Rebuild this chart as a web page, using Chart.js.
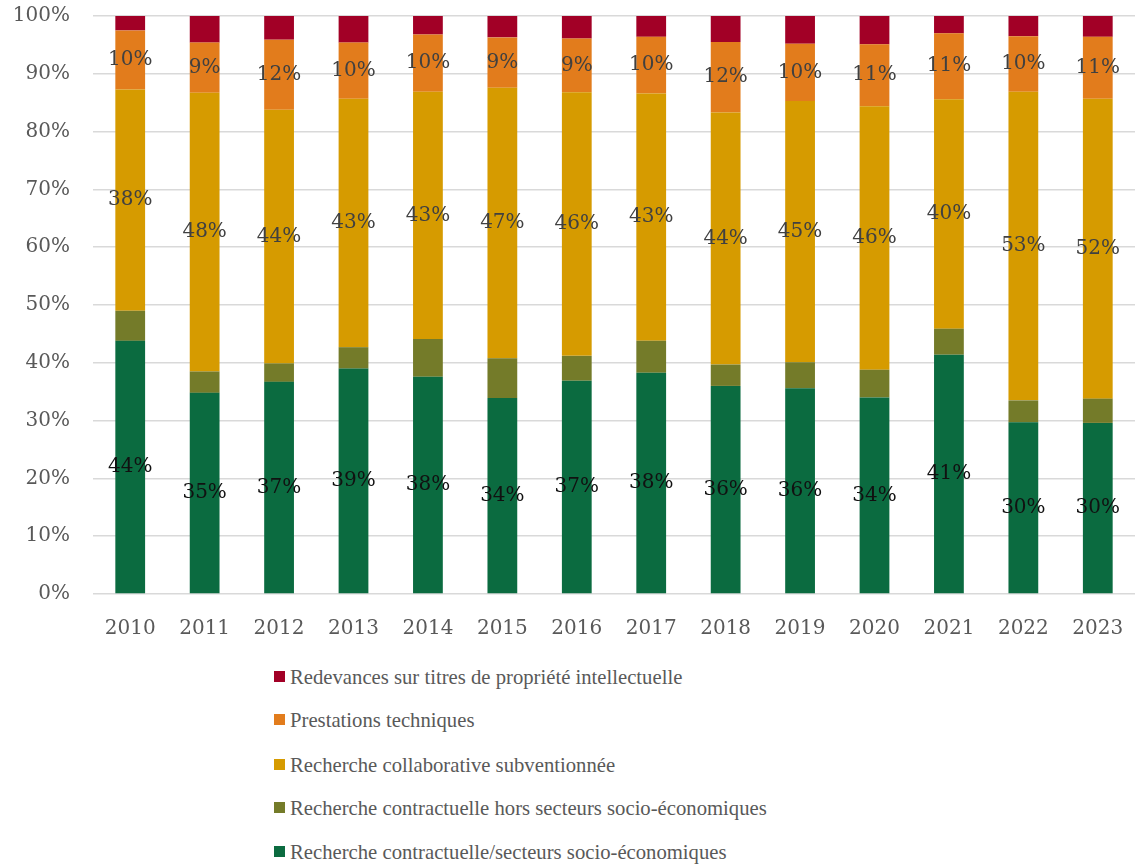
<!DOCTYPE html>
<html>
<head>
<meta charset="utf-8">
<script src="https://cdn.jsdelivr.net/npm/chart.js@4"></script>
<style>
  html, body { margin: 0; padding: 0; background: #ffffff; }
  #wrap { position: relative; width: 1135px; height: 866px; }
  #chartBox { position: absolute; left: 0; top: 0; width: 1135px; height: 660px; }
  #legend { position: absolute; left: 274px; top: 660px; font-family: "Liberation Serif", serif; font-size: 20.7px; color: #595959; }
  .li { position: absolute; left: 0; white-space: nowrap; height: 24px; line-height: 24px; }
  .sw { position: absolute; left: 0; top: 6px; width: 11px; height: 11px; }
  .tx { position: absolute; left: 16px; top: 0; }
</style>
</head>
<body>
<div id="wrap">
  <div id="chartBox"><canvas id="c"></canvas></div>
  <div id="legend"></div>
</div>
<script>
const years = ["2010","2011","2012","2013","2014","2015","2016","2017","2018","2019","2020","2021","2022","2023"];
const seriesNames = [
  "Recherche contractuelle/secteurs socio-économiques",
  "Recherche contractuelle hors secteurs socio-économiques",
  "Recherche collaborative subventionnée",
  "Prestations techniques",
  "Redevances sur titres de propriété intellectuelle"
];
const contractSocio = [43.8,34.8,36.7,39.0,37.6,33.9,36.9,38.3,36.0,35.6,34.0,41.4,29.7,29.6];
const contractHors  = [5.2,3.7,3.2,3.7,6.5,6.9,4.3,5.5,3.7,4.5,4.8,4.5,3.8,4.2];
const collaborative = [38.3,48.2,43.9,43.0,42.8,46.8,45.6,42.8,43.6,45.2,45.6,39.7,53.4,51.9];
const prestations   = [10.2,8.7,12.1,9.7,9.9,8.7,9.3,9.8,12.2,9.9,10.7,11.4,9.6,10.7];
const redevances    = [2.5,4.6,4.1,4.6,3.2,3.7,3.9,3.6,4.5,4.8,4.9,3.0,3.5,3.6];
const yTicks = [0,10,20,30,40,50,60,70,80,90,100];

const colors = ["#0b6b40","#747b29","#d69b00","#e27c1c","#a20026"];
const seriesData = [contractSocio, contractHors, collaborative, prestations, redevances];
const labelled = [true, false, true, true, false];
const labelColors = ["#111111", null, "#404040", "#404040", null];

const FONT = "'DejaVu Serif', serif";

const dataLabelPlugin = {
  id: 'segLabels',
  afterDatasetsDraw(chart) {
    const ctx = chart.ctx;
    ctx.save();
    ctx.font = "20px " + FONT;
    ctx.textAlign = "center";
    ctx.textBaseline = "middle";
    chart.data.datasets.forEach((ds, di) => {
      if (!labelled[di]) return;
      const meta = chart.getDatasetMeta(di);
      meta.data.forEach((bar, i) => {
        const v = ds.data[i];
        const yMid = (bar.y + bar.base) / 2;
        ctx.fillStyle = labelColors[di];
        ctx.fillText(Math.round(v) + "%", bar.x, yMid);
      });
    });
    ctx.restore();
  }
};

new Chart(document.getElementById('c'), {
  type: 'bar',
  data: {
    labels: years,
    datasets: seriesData.map((d, i) => ({
      label: seriesNames[i],
      data: d,
      backgroundColor: colors[i],
      borderWidth: 0,
      barPercentage: 0.4,
      categoryPercentage: 1.0
    }))
  },
  options: {
    responsive: true,
    maintainAspectRatio: false,
    animation: false,
    layout: { padding: { top: 16, right: 0, left: 0, bottom: 0 } },
    plugins: { legend: { display: false }, tooltip: { enabled: false } },
    scales: {
      x: {
        stacked: true,
        grid: { display: false, drawTicks: false },
        border: { display: false },
        ticks: { color: "#595959", font: { family: FONT, size: 20 }, padding: 23 },
        afterFit(s) { s.height = 66; s.paddingLeft = 0; s.paddingRight = 0; }
      },
      y: {
        stacked: true,
        min: 0, max: 100,
        afterBuildTicks(s) { s.ticks = yTicks.map(v => ({ value: v })); },
        grid: { color: "#d9d9d9", lineWidth: 1.5, drawTicks: false },
        border: { display: false },
        ticks: { color: "#595959", font: { family: FONT, size: 20 }, padding: 23, callback: v => v + "%" },
        afterFit(s) { s.width = 93; s.paddingTop = 0; s.paddingBottom = 0; }
      }
    }
  },
  plugins: [dataLabelPlugin]
});

// legend (reverse order, top = last series)
const leg = document.getElementById('legend');
const rowTops = [5, 48, 93, 136, 180];
for (let k = 0; k < 5; k++) {
  const idx = 4 - k;
  const row = document.createElement('div');
  row.className = 'li';
  row.style.top = rowTops[k] + 'px';
  const sw = document.createElement('span');
  sw.className = 'sw';
  sw.style.background = colors[idx];
  const tx = document.createElement('span');
  tx.className = 'tx';
  tx.textContent = seriesNames[idx];
  row.appendChild(sw); row.appendChild(tx);
  leg.appendChild(row);
}
</script>
</body>
</html>
